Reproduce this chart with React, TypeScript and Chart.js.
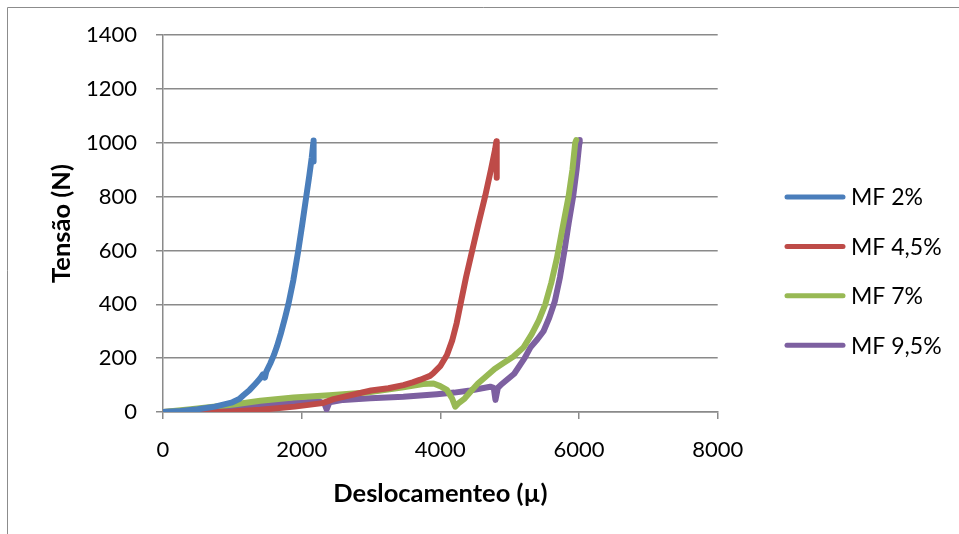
import { useEffect, useRef } from "react";
import { Chart, registerables } from "chart.js";

Chart.register(...registerables);

// Força (N) x deslocamento (µ) para quatro teores de MF
const seriesLabels = ["MF 2%", "MF 4,5%", "MF 7%", "MF 9,5%"];
const seriesColors = ["#4A7EBB", "#BE4B48", "#98B954", "#7D60A0"];

const mf2: [number, number][] = [
  [0, 0], [250, 4], [500, 10], [750, 20], [1000, 36], [1100, 48], [1160, 62],
  [1250, 82], [1330, 104], [1400, 124], [1440, 140], [1470, 128], [1490, 150],
  [1547, 180], [1600, 212], [1644, 244], [1700, 292], [1760, 350], [1810, 402],
  [1880, 490], [1950, 598], [2010, 700], [2066, 800], [2110, 878], [2145, 945],
  [2168, 1000], [2172, 1008], [2170, 955], [2174, 930],
];

const mf45: [number, number][] = [
  [0, 0], [500, 0], [1000, 2], [1400, 8], [1900, 20], [2300, 33], [2460, 48],
  [3000, 80], [3250, 88], [3467, 100], [3600, 110], [3711, 120], [3850, 134],
  [3902, 145], [3998, 170], [4095, 212], [4170, 265], [4235, 330], [4290, 400],
  [4370, 500], [4460, 600], [4550, 700], [4645, 800], [4730, 900], [4790, 975],
  [4808, 1005], [4812, 950], [4814, 870],
];

const mf7: [number, number][] = [
  [0, 0], [400, 10], [1018, 28], [1403, 42], [1884, 54], [2400, 62], [2940, 72],
  [3467, 92], [3750, 104], [3902, 106], [3998, 96], [4095, 82], [4170, 50],
  [4215, 20], [4260, 32], [4350, 50], [4450, 80], [4542, 106], [4650, 130],
  [4782, 160], [4900, 180], [5050, 205], [5200, 240], [5320, 290], [5420, 340],
  [5513, 400], [5600, 480], [5680, 570], [5760, 680], [5849, 800], [5905, 900],
  [5945, 1000], [5960, 1010],
];

const mf95: [number, number][] = [
  [0, 0], [400, 6], [925, 15], [1400, 25], [1884, 33], [2250, 40], [2330, 30],
  [2360, 10], [2400, 36], [2600, 45], [2990, 51], [3467, 57], [3950, 66],
  [4200, 72], [4430, 80], [4720, 94], [4770, 90], [4795, 45], [4830, 90],
  [4870, 100], [5065, 142], [5215, 200], [5300, 240], [5400, 270], [5488, 300],
  [5570, 350], [5650, 410], [5725, 500], [5790, 600], [5850, 700], [5915, 800],
  [5965, 900], [6005, 1000], [6010, 1010],
];

const seriesPoints = [mf2, mf45, mf7, mf95];

const xTickValues = [0, 2000, 4000, 6000, 8000];
const yTickValues = [0, 200, 400, 600, 800, 1000, 1200, 1400];

const xTitle = "Deslocamenteo (µ)";
const yTitle = "Tensão (N)";

const FONT = 'Lato, "Open Sans", sans-serif';
const GRID = "#8a8a8a";

// Moldura externa (apenas bordas superior e esquerda visíveis)
const framePlugin = {
  id: "frame",
  beforeDraw(chart: Chart) {
    const { ctx, width, height } = chart;
    ctx.save();
    ctx.strokeStyle = "#8c8c8c";
    ctx.lineWidth = 1;
    ctx.beginPath();
    ctx.moveTo(7.5, height);
    ctx.lineTo(7.5, 7.5);
    ctx.lineTo(width, 7.5);
    ctx.stroke();
    ctx.restore();
  },
};

// Legenda à direita
const legendPlugin = {
  id: "sideLegend",
  afterDraw(chart: Chart) {
    const { ctx } = chart;
    const x0 = 787;
    const x1 = 843;
    const y0 = 197;
    const step = 49.4;
    ctx.save();
    ctx.font = `23px ${FONT}`;
    ctx.textBaseline = "middle";
    ctx.textAlign = "left";
    chart.data.datasets.forEach((ds: any, i: number) => {
      const y = y0 + i * step;
      ctx.strokeStyle = ds.borderColor;
      ctx.lineWidth = 5;
      ctx.lineCap = "round";
      ctx.beginPath();
      ctx.moveTo(x0, y);
      ctx.lineTo(x1, y);
      ctx.stroke();
      ctx.fillStyle = "#000";
      ctx.fillText(ds.label, 851, y + 1);
    });
    ctx.restore();
  },
};

const plain = (v: number | string) => String(v);

export default function App() {
  const ref = useRef<HTMLCanvasElement | null>(null);

  useEffect(() => {
    if (!ref.current) return;
    const chart = new Chart(ref.current, {
      type: "scatter",
      data: {
        datasets: seriesPoints.map((pts, i) => ({
          label: seriesLabels[i],
          data: pts.map(([x, y]) => ({ x, y })),
          showLine: true,
          borderColor: seriesColors[i],
          backgroundColor: seriesColors[i],
          borderWidth: 6,
          borderCapStyle: "round",
          borderJoinStyle: "round",
          pointRadius: 0,
          pointHoverRadius: 0,
          tension: 0,
        })),
      },
      options: {
        responsive: false,
        animation: false,
        devicePixelRatio: 1,
        layout: { padding: { left: 0, top: 35, right: 241.3, bottom: 0 } },
        plugins: {
          legend: { display: false },
          tooltip: { enabled: false },
        },
        scales: {
          x: {
            type: "linear",
            min: 0,
            max: 8000,
            afterBuildTicks: (s: any) => {
              s.ticks = xTickValues.map((v) => ({ value: v }));
            },
            afterFit: (s: any) => {
              s.height = 122;
            },
            ticks: {
              color: "#000",
              font: { family: FONT, size: 22 },
              padding: 18,
              maxRotation: 0,
              callback: plain,
            },
            grid: {
              drawOnChartArea: false,
              drawTicks: true,
              tickLength: 7,
              color: GRID,
              lineWidth: 1.5,
            },
            border: { color: GRID, width: 1.5 },
            title: {
              display: true,
              text: xTitle,
              color: "#000",
              font: { family: FONT, size: 25.5, weight: "bold" },
              padding: { top: 0, bottom: 25 },
            },
          },
          y: {
            type: "linear",
            min: 0,
            max: 1400,
            afterBuildTicks: (s: any) => {
              s.ticks = yTickValues.map((v) => ({ value: v }));
            },
            afterFit: (s: any) => {
              s.width = 163;
            },
            ticks: {
              color: "#000",
              font: { family: FONT, size: 22 },
              padding: 19,
              callback: plain,
            },
            grid: {
              drawTicks: true,
              tickLength: 7,
              color: GRID,
              lineWidth: 1.5,
            },
            border: { color: GRID, width: 1.5 },
            title: {
              display: true,
              text: yTitle,
              color: "#000",
              font: { family: FONT, size: 25.5, weight: "bold" },
              padding: { top: 46, bottom: 0 },
            },
          },
        },
      },
      plugins: [framePlugin, legendPlugin],
    } as any);
    return () => chart.destroy();
  }, []);

  return (
    <div style={{ position: "fixed", left: 0, top: 0, width: 959, height: 534, background: "#fff" }}>
      <canvas ref={ref} width={959} height={534} style={{ display: "block" }} />
    </div>
  );
}
